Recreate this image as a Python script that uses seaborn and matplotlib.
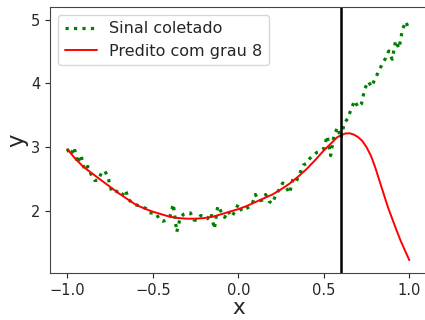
import numpy as np
import pandas as pd
import matplotlib
matplotlib.use("Agg")
import matplotlib.pyplot as plt
import seaborn as sns

sinal_x = [-1.00, -0.98, -0.96, -0.94, -0.92, -0.90, -0.88, -0.86, -0.84, -0.82,
           -0.80, -0.78, -0.76, -0.74, -0.72, -0.70, -0.68, -0.66, -0.64, -0.62,
           -0.60, -0.58, -0.56, -0.54, -0.52, -0.50, -0.48, -0.46, -0.44, -0.42,
           -0.40, -0.38, -0.36, -0.34, -0.32, -0.30, -0.28, -0.26, -0.24, -0.22,
           -0.20, -0.18, -0.16, -0.14, -0.12, -0.10, -0.08, -0.06, -0.04, -0.02,
           0.00, 0.02, 0.04, 0.06, 0.08, 0.10, 0.12, 0.14, 0.16, 0.18,
           0.20, 0.22, 0.24, 0.26, 0.28, 0.30, 0.32, 0.34, 0.36, 0.38,
           0.40, 0.42, 0.44, 0.46, 0.48, 0.50, 0.52, 0.54, 0.56, 0.58,
           0.60, 0.62, 0.64, 0.66, 0.68, 0.70, 0.72, 0.74, 0.76, 0.78,
           0.80, 0.82, 0.84, 0.86, 0.88, 0.90, 0.92, 0.94, 0.96, 0.98, 1.00]
sinal_y = [2.97, 2.88, 3.00, 2.75, 2.88, 2.64, 2.70, 2.57, 2.48, 2.48,
           2.60, 2.63, 2.51, 2.30, 2.32, 2.29, 2.24, 2.33, 2.18, 2.12,
           2.10, 2.08, 2.06, 2.04, 1.97, 1.97, 1.96, 1.86, 1.84, 1.86,
           1.91, 2.11, 1.67, 1.89, 1.95, 1.97, 1.97, 1.86, 1.85, 1.93,
           1.91, 1.88, 1.97, 1.72, 2.08, 1.99, 1.90, 2.00, 1.91, 1.99,
           2.11, 2.00, 2.03, 2.06, 2.10, 2.26, 2.16, 2.17, 2.26, 2.15,
           2.12, 2.26, 2.34, 2.44, 2.37, 2.28, 2.51, 2.47, 2.59, 2.72,
           2.75, 2.83, 2.88, 2.92, 2.94, 2.98, 3.18, 2.87, 3.19, 3.31,
           3.14, 3.38, 3.45, 3.60, 3.73, 3.63, 3.68, 3.92, 4.03, 3.95,
           4.08, 4.18, 4.30, 4.39, 4.51, 4.38, 4.67, 4.55, 4.85, 4.97, 4.83]

# Degree-8 prediction
pred_x = [-1.00, -0.95, -0.90, -0.85, -0.80, -0.75, -0.70, -0.65, -0.60, -0.55,
          -0.50, -0.45, -0.40, -0.35, -0.30, -0.25, -0.20, -0.15, -0.10, -0.05,
          0.00, 0.05, 0.10, 0.15, 0.20, 0.25, 0.30, 0.35, 0.40, 0.45,
          0.50, 0.55, 0.575, 0.60, 0.625, 0.65, 0.675, 0.70, 0.725, 0.75,
          0.775, 0.80, 0.825, 0.85, 0.875, 0.90, 0.925, 0.95, 0.975, 1.00]
pred_y = [2.97, 2.81, 2.68, 2.58, 2.48, 2.38, 2.28, 2.19, 2.10, 2.04,
          1.99, 1.95, 1.91, 1.89, 1.88, 1.88, 1.89, 1.91, 1.95, 1.99,
          2.03, 2.08, 2.14, 2.20, 2.26, 2.34, 2.43, 2.54, 2.66, 2.80,
          2.95, 3.08, 3.15, 3.19, 3.215, 3.22, 3.20, 3.16, 3.10, 3.00,
          2.87, 2.69, 2.48, 2.27, 2.06, 1.88, 1.70, 1.53, 1.38, 1.23]

corte_x = 0.6

sns.set_style("ticks")
plt.rcParams['font.family'] = ['DejaVu Sans']

fig = plt.figure(figsize=(4.25, 3.2), dpi=100)
ax = fig.add_axes([0.1181, 0.146, 0.8852, 0.833])

df_s = pd.DataFrame({"x": sinal_x, "y": sinal_y})
df_p = pd.DataFrame({"x": pred_x, "y": pred_y})

sns.lineplot(data=df_s, x="x", y="y", ax=ax, color="green", linestyle=":",
             linewidth=2.3, label="Sinal coletado", sort=False)
sns.lineplot(data=df_p, x="x", y="y", ax=ax, color="red", linewidth=1.4,
             label="Predito com grau 8", sort=False)
ax.axvline(corte_x, color="black", linewidth=1.8)

ax.set_xlim(-1.1, 1.1)
ax.set_ylim(1.024, 5.204)
ax.set_xticks([-1.0, -0.5, 0.0, 0.5, 1.0])
ax.set_yticks([2, 3, 4, 5])
ax.tick_params(labelsize=10.5)
ax.set_xlabel("x", fontsize=15.5, labelpad=0)
ax.set_ylabel("y", fontsize=16.5, labelpad=2)
for s in ax.spines.values():
    s.set_color("#444444")
ax.legend(loc="upper left", fontsize=11.5, frameon=True)

fig.savefig("out.png", dpi=100)
